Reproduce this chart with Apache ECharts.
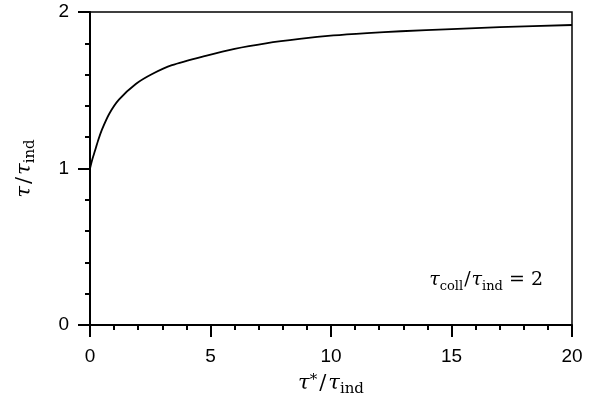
<!DOCTYPE html>
<html>
<head>
<meta charset="utf-8">
<script src="https://cdn.jsdelivr.net/npm/echarts@6/dist/echarts.min.js"></script>
<style>
  html, body { margin: 0; padding: 0; background: #fff; }
  #chart-container { width: 599px; height: 407px; }
</style>
</head>
<body>
<div id="chart-container"></div>
<script>
// values
var tauStar = [0, 0.1, 0.2, 0.35, 0.5, 0.8, 1.2, 1.9, 2.6, 3.4, 4.8, 6, 7.3, 8.7, 10.1, 11.5, 12.9, 15, 17, 20];
var tauRatio = [1.0, 1.06, 1.11, 1.185, 1.25, 1.35, 1.44, 1.54, 1.605, 1.66, 1.72, 1.765, 1.80, 1.828, 1.85, 1.865, 1.877, 1.891, 1.903, 1.917];
var xTicks = [0, 5, 10, 15, 20];
var yTicks = [0, 1, 2];

var curve = tauStar.map(function (x, i) { return [x, tauRatio[i]]; });

var dom = document.getElementById('chart-container');
var myChart = echarts.init(dom, null, { renderer: 'canvas' });

var serif = '"DejaVu Serif", "Liberation Serif", serif';
var mathRich = {
  it: { fontFamily: serif, fontStyle: 'italic', fontSize: 21, color: '#000', lineHeight: 22, verticalAlign: 'top' },
  sl: { fontFamily: serif, fontSize: 21, color: '#000', lineHeight: 22, verticalAlign: 'top', padding: [0, 2, 0, 2] },
  sup: { fontFamily: serif, fontSize: 15, color: '#000', lineHeight: 15, verticalAlign: 'top' },
  sub: { fontFamily: serif, fontSize: 15, color: '#000', lineHeight: 15, verticalAlign: 'top', padding: [9, 0, 0, 0] }
};

var option = {
  animation: false,
  backgroundColor: '#fff',
  grid: {
    left: 90, right: 27, top: 12, bottom: 82,
    show: true, borderColor: '#000', borderWidth: 1.5
  },
  xAxis: {
    type: 'value',
    min: xTicks[0], max: xTicks[xTicks.length - 1], interval: 5,
    name: '{it|τ}{sup|*}{sl|/}{it|τ}{sub|ind}',
    nameLocation: 'middle', nameGap: 48,
    nameTextStyle: { rich: mathRich },
    axisLine: { lineStyle: { color: '#000', width: 2 } },
    axisTick: { length: 12, lineStyle: { color: '#000', width: 2 } },
    minorTick: { show: true, splitNumber: 5, length: 5, lineStyle: { color: '#000', width: 2 } },
    axisLabel: { margin: 22, color: '#000', fontSize: 19, fontFamily: '"Liberation Sans", Arial, sans-serif' },
    splitLine: { show: false }
  },
  yAxis: {
    type: 'value',
    min: yTicks[0], max: yTicks[yTicks.length - 1], interval: 1,
    name: '{it|τ}{sl|/}{it|τ}{sub|ind}',
    nameLocation: 'middle', nameGap: 54, nameRotate: 90,
    nameTextStyle: { rich: mathRich },
    axisLine: { lineStyle: { color: '#000', width: 2 } },
    axisTick: { length: 12, lineStyle: { color: '#000', width: 2 } },
    minorTick: { show: true, splitNumber: 5, length: 5, lineStyle: { color: '#000', width: 2 } },
    axisLabel: { margin: 21, color: '#000', fontSize: 19, fontFamily: '"Liberation Sans", Arial, sans-serif' },
    splitLine: { show: false }
  },
  graphic: [{
    type: 'text',
    right: 56, top: 271,
    style: {
      text: '{it|τ}{sub|coll}{sl|/}{it|τ}{sub|ind}{eq| = 2}',
      rich: {
        it: { fontFamily: serif, fontStyle: 'italic', fontSize: 19, color: '#000', lineHeight: 20, verticalAlign: 'top' },
        sl: { fontFamily: serif, fontSize: 19, color: '#000', lineHeight: 20, verticalAlign: 'top', padding: [0, 1, 0, 1] },
        eq: { fontFamily: serif, fontSize: 19, color: '#000', lineHeight: 20, verticalAlign: 'top' },
        sub: { fontFamily: serif, fontSize: 13, color: '#000', lineHeight: 13, verticalAlign: 'top', padding: [9, 0, 0, 0] }
      }
    }
  }],
  series: [{
    type: 'line',
    data: curve,
    smooth: 0.25,
    showSymbol: false,
    lineStyle: { color: '#000', width: 1.8 }
  }]
};

myChart.setOption(option);
window.addEventListener('resize', myChart.resize);
</script>
</body>
</html>
